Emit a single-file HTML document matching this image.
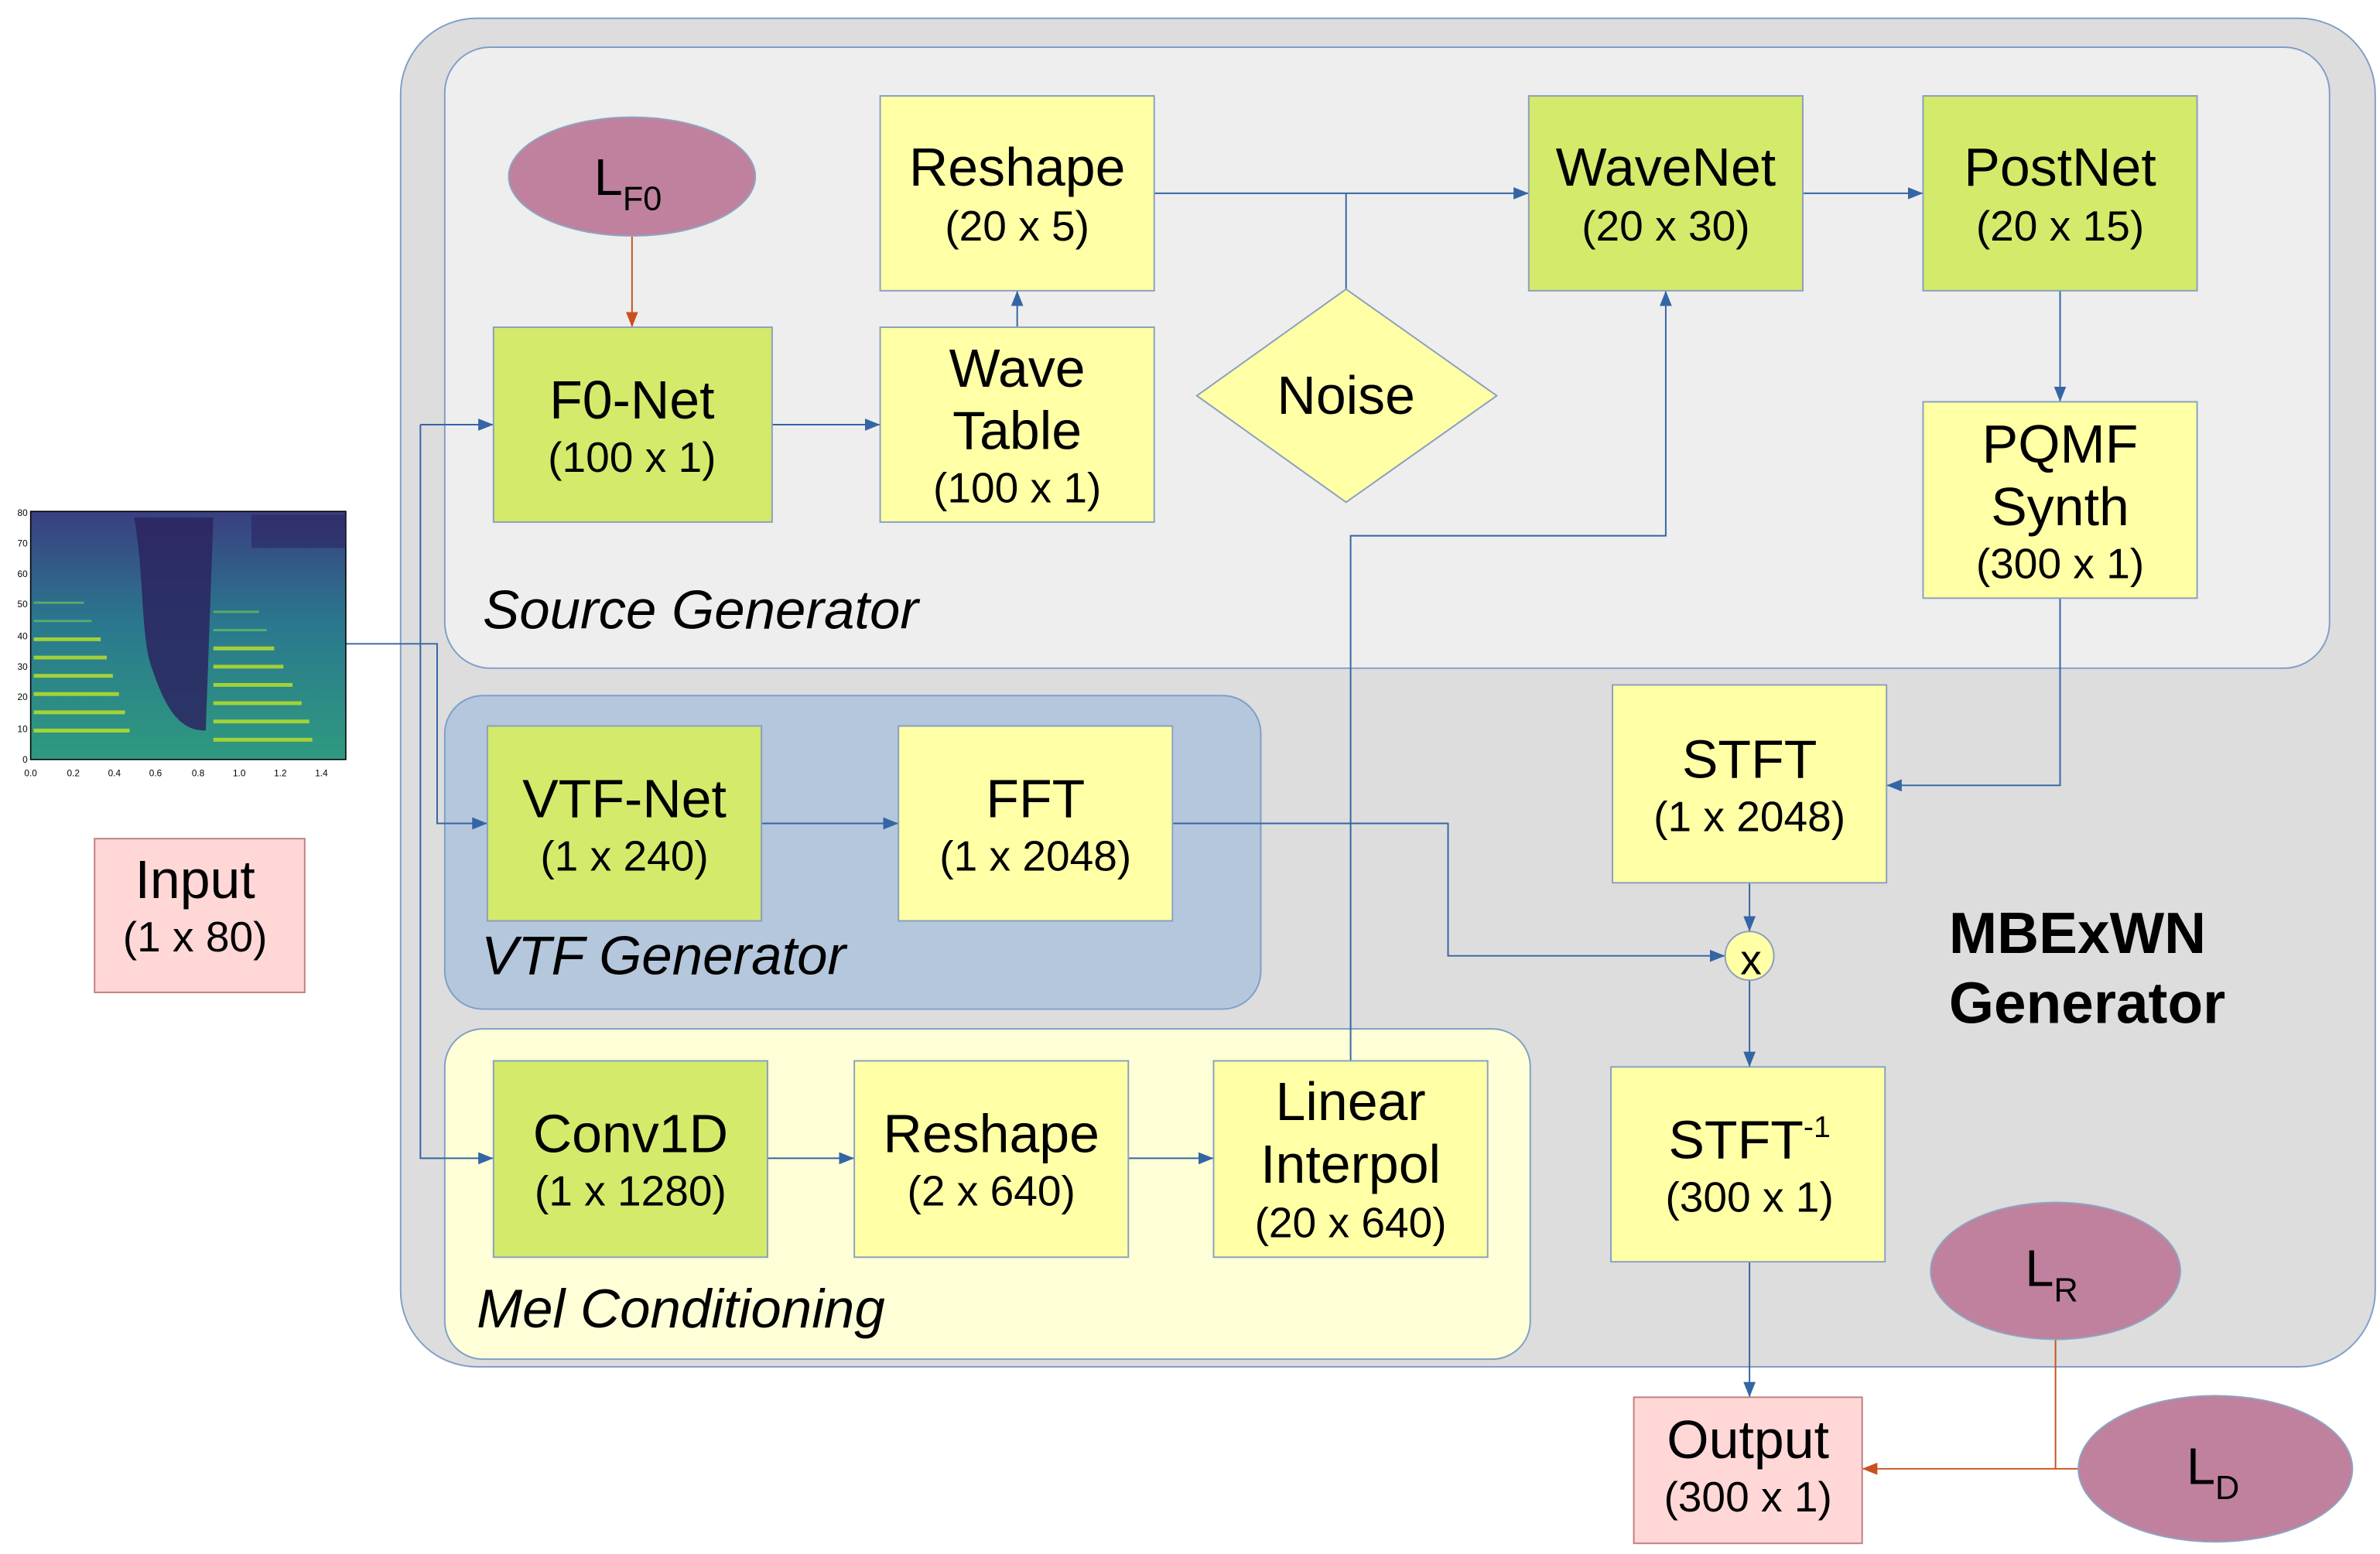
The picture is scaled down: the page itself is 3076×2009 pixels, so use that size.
<!DOCTYPE html>
<html><head><meta charset="utf-8"><style>html,body{margin:0;padding:0;background:#fff}svg{display:block}</style></head><body>
<svg width="3076" height="2009" viewBox="0 0 1563 1021" xmlns="http://www.w3.org/2000/svg" font-family="Liberation Sans, sans-serif">
<defs>
<marker id="ab" markerWidth="10" markerHeight="8" refX="10" refY="4" orient="auto" markerUnits="userSpaceOnUse"><path d="M0,0 L10,4 L0,8 z" fill="#3465a4"/></marker>
<marker id="ao" markerWidth="10" markerHeight="8" refX="10" refY="4" orient="auto" markerUnits="userSpaceOnUse"><path d="M0,0 L10,4 L0,8 z" fill="#c9511f"/></marker>
<linearGradient id="sg" x1="0" y1="0" x2="0" y2="1"><stop offset="0" stop-color="#3a3f80"/><stop offset="0.45" stop-color="#2a788e"/><stop offset="1" stop-color="#2f9a7f"/></linearGradient>
</defs>
<rect x="263" y="12" width="1297" height="886" rx="50" fill="#dddddd" stroke="#7f9fc8" stroke-width="1"/>
<rect x="292" y="31" width="1238" height="408" rx="30" fill="#eeeeee" stroke="#7f9fc8" stroke-width="1"/>
<rect x="292" y="457" width="536" height="206" rx="25" fill="#b4c7dc" stroke="#7f9fc8" stroke-width="1"/>
<rect x="292" y="676" width="713" height="217" rx="25" fill="#ffffd7" stroke="#7f9fc8" stroke-width="1"/>
<g font-style="italic" font-size="36" fill="#000">
<text x="317" y="413">Source Generator</text>
<text x="316" y="640">VTF Generator</text>
<text x="313" y="872">Mel Conditioning</text>
</g>
<text x="1280" y="626" font-size="38" font-weight="bold">MBExWN</text>
<text x="1280" y="672" font-size="38" font-weight="bold">Generator</text>
<g stroke="#3465a4" stroke-width="1" fill="none">
<path d="M758,127 H1004" marker-end="url(#ab)"/>
<path d="M884,190 V127"/>
<path d="M1184,127 H1263" marker-end="url(#ab)"/>
<path d="M1353,191 V264" marker-end="url(#ab)"/>
<path d="M1353,393 V516 H1239" marker-end="url(#ab)"/>
<path d="M668,215 V191" marker-end="url(#ab)"/>
<path d="M507,279 H578" marker-end="url(#ab)"/>
<path d="M227,423 H287 V541 H320" marker-end="url(#ab)"/>
<path d="M276,279 H324" marker-end="url(#ab)"/>
<path d="M276,279 V761 H324" marker-end="url(#ab)"/>
<path d="M500,541 H590" marker-end="url(#ab)"/>
<path d="M770,541 H951 V628 H1133" marker-end="url(#ab)"/>
<path d="M1149,580 V612" marker-end="url(#ab)"/>
<path d="M1149,644 V701" marker-end="url(#ab)"/>
<path d="M1149,829 V918" marker-end="url(#ab)"/>
<path d="M504,761 H561" marker-end="url(#ab)"/>
<path d="M741,761 H797" marker-end="url(#ab)"/>
<path d="M887,697 V352 H1094 V191" marker-end="url(#ab)"/>
</g>
<g stroke="#c9511f" stroke-width="1" fill="none">
<path d="M415,155 V215" marker-end="url(#ao)"/>
<path d="M1350,880 V965"/>
<path d="M1365,965 H1223" marker-end="url(#ao)"/>
</g>
<g stroke="#8aa0bf" stroke-width="1">
<rect x="578" y="63" width="180" height="128" fill="#ffffa6"/>
<rect x="1004" y="63" width="180" height="128" fill="#d4ea6b"/>
<rect x="1263" y="63" width="180" height="128" fill="#d4ea6b"/>
<rect x="324" y="215" width="183" height="128" fill="#d4ea6b"/>
<rect x="578" y="215" width="180" height="128" fill="#ffffa6"/>
<polygon points="884,190 983,260 884,330 786,260" fill="#ffffa6"/>
<rect x="1263" y="264" width="180" height="129" fill="#ffffa6"/>
<rect x="320" y="477" width="180" height="128" fill="#d4ea6b"/>
<rect x="590" y="477" width="180" height="128" fill="#ffffa6"/>
<rect x="1059" y="450" width="180" height="130" fill="#ffffa6"/>
<circle cx="1149" cy="628" r="16" fill="#ffffa6"/>
<rect x="1058" y="701" width="180" height="128" fill="#ffffa6"/>
<rect x="324" y="697" width="180" height="129" fill="#d4ea6b"/>
<rect x="561" y="697" width="180" height="129" fill="#ffffa6"/>
<rect x="797" y="697" width="180" height="129" fill="#ffffa6"/>
<rect x="1073" y="918" width="150" height="96" fill="#ffd7d7" stroke="#c08080"/>
<rect x="62" y="551" width="138" height="101" fill="#ffd7d7" stroke="#c08080"/>
</g>
<g fill="#bf819e" stroke="#8fa4c0" stroke-width="1">
<ellipse cx="415" cy="116" rx="81" ry="39"/>
<ellipse cx="1350" cy="835" rx="82" ry="45"/>
<ellipse cx="1455" cy="965" rx="90" ry="48"/>
</g>
<g font-size="35.5" text-anchor="middle" fill="#000">
<text x="668" y="122">Reshape</text>
<text x="1094" y="122">WaveNet</text>
<text x="1353" y="122">PostNet</text>
<text x="415" y="275">F0-Net</text>
<text x="668" y="254">Wave</text><text x="668" y="295">Table</text>
<text x="884" y="272">Noise</text>
<text x="1353" y="304">PQMF</text><text x="1353" y="345">Synth</text>
<text x="410" y="537">VTF-Net</text>
<text x="680" y="537">FFT</text>
<text x="1149" y="511">STFT</text>
<text x="1149" y="761">STFT<tspan font-size="20" dy="-14">-1</tspan></text>
<text x="414" y="757">Conv1D</text>
<text x="651" y="757">Reshape</text>
<text x="887" y="736">Linear</text><text x="887" y="777">Interpol</text>
<text x="1148" y="958">Output</text>
<text x="128" y="590">Input</text>
<text x="1150" y="640" font-size="28">x</text>
</g>
<g font-size="28" text-anchor="middle" fill="#000">
<text x="668" y="158">(20 x 5)</text>
<text x="1094" y="158">(20 x 30)</text>
<text x="1353" y="158">(20 x 15)</text>
<text x="415" y="310">(100 x 1)</text>
<text x="668" y="330">(100 x 1)</text>
<text x="1353" y="380">(300 x 1)</text>
<text x="410" y="572">(1 x 240)</text>
<text x="680" y="572">(1 x 2048)</text>
<text x="1149" y="546">(1 x 2048)</text>
<text x="1149" y="796">(300 x 1)</text>
<text x="414" y="792">(1 x 1280)</text>
<text x="651" y="792">(2 x 640)</text>
<text x="887" y="813">(20 x 640)</text>
<text x="1148" y="993">(300 x 1)</text>
<text x="128" y="625">(1 x 80)</text>
</g>
<g font-size="34" fill="#000">
<text x="390" y="128">L<tspan font-size="22" dy="10">F0</tspan></text>
<text x="1330" y="845">L<tspan font-size="22" dy="10">R</tspan></text>
<text x="1436" y="975">L<tspan font-size="22" dy="10">D</tspan></text>
</g>
<rect x="20" y="336" width="207" height="163" fill="url(#sg)" stroke="#000" stroke-width="0.8"/>
<path d="M88,340 C95,380 92,420 100,440 C110,470 120,480 135,480 L140,340 z" fill="#2c2560" opacity="0.85"/>
<path d="M165,338 H227 V360 H165 z" fill="#2c2560" opacity="0.6"/>
<g stroke="#b8de29" stroke-width="2.5" opacity="0.85" fill="none">
<path d="M22,480 H85 M22,468 H82 M22,456 H78 M22,444 H74 M22,432 H70 M22,420 H66 M140,486 H205 M140,474 H203 M140,462 H198 M140,450 H192 M140,438 H186 M140,426 H180"/>
</g>
<g stroke="#7ad151" stroke-width="1.5" opacity="0.6" fill="none">
<path d="M22,408 H60 M22,396 H55 M140,414 H175 M140,402 H170"/>
</g>
<g font-size="6" fill="#000" text-anchor="middle">
<text x="20" y="510">0.0</text><text x="48" y="510">0.2</text><text x="75" y="510">0.4</text><text x="102" y="510">0.6</text><text x="130" y="510">0.8</text><text x="157" y="510">1.0</text><text x="184" y="510">1.2</text><text x="211" y="510">1.4</text>
</g>
<g font-size="6" fill="#000" text-anchor="end">
<text x="18" y="501">0</text><text x="18" y="481">10</text><text x="18" y="460">20</text><text x="18" y="440">30</text><text x="18" y="420">40</text><text x="18" y="399">50</text><text x="18" y="379">60</text><text x="18" y="359">70</text><text x="18" y="339">80</text>
</g>
</svg>
</body></html>
